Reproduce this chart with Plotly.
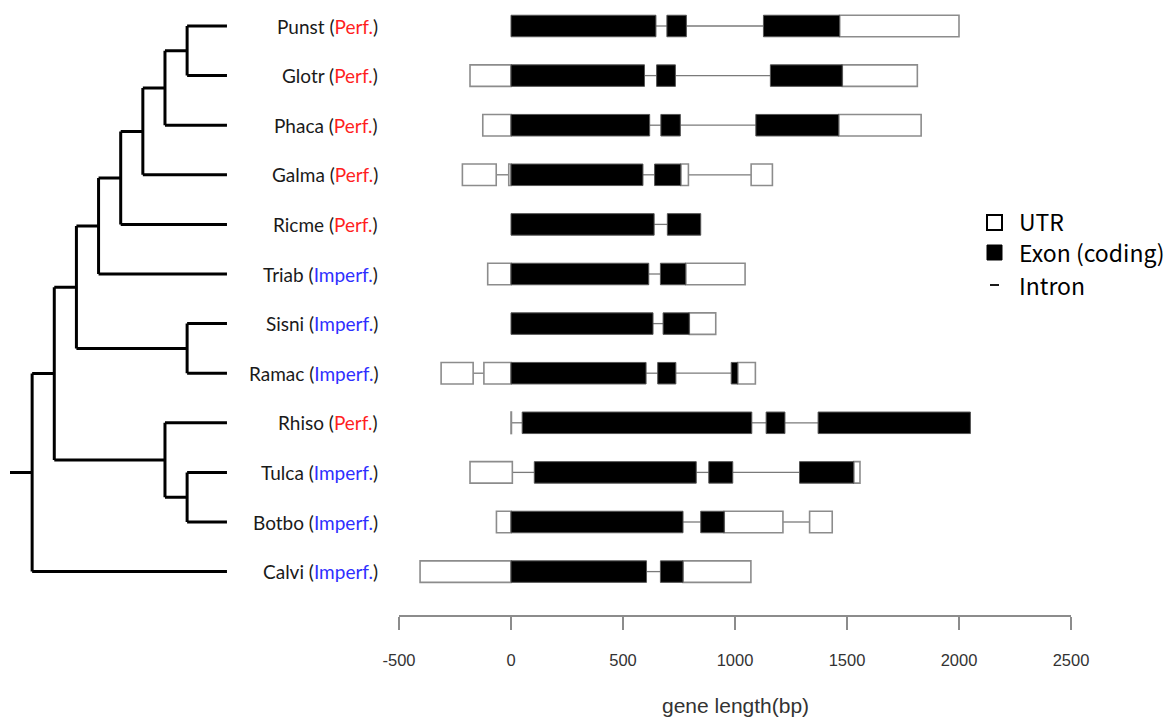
import plotly.graph_objects as go

W, H = 1168, 717

# Species in display order (top to bottom) and their splicing status
species = ["Punst", "Glotr", "Phaca", "Galma", "Ricme", "Triab",
           "Sisni", "Ramac", "Rhiso", "Tulca", "Botbo", "Calvi"]
status = ["Perf.", "Perf.", "Perf.", "Perf.", "Perf.", "Imperf.",
          "Imperf.", "Imperf.", "Perf.", "Imperf.", "Imperf.", "Imperf."]

# Cladogram topology (children listed top to bottom)
tree = ("root_stub",
        ((((("Triab", ("Ricme", ("Galma", ("Phaca", ("Punst", "Glotr")))))),
           ("Sisni", "Ramac")),
          ("Rhiso", ("Tulca", "Botbo"))),
         "Calvi"))

# UTR segments (bp, start/end) per species
utr_segments = [
    [(1467, 2000)],
    [(-183, 0), (1479, 1814)],
    [(-126, 0), (1463, 1831)],
    [(-217, -66), (-10, 0), (758, 792), (1072, 1167)],
    [],
    [(-104, 0), (780, 1045)],
    [(796, 914)],
    [(-312, -169), (-121, 0), (1012, 1091)],
    [(0, 2)],
    [(-183, 6), (1530, 1558)],
    [(-65, 0), (952, 1214), (1333, 1434)],
    [(-406, 0), (768, 1071)],
]

# Coding exon segments (bp, start/end) per species
cds_segments = [
    [(0, 647), (696, 783), (1127, 1467)],
    [(0, 596), (650, 734), (1158, 1479)],
    [(0, 619), (669, 756), (1093, 1463)],
    [(0, 589), (641, 758)],
    [(0, 639), (698, 847)],
    [(0, 615), (667, 780)],
    [(0, 634), (679, 796)],
    [(0, 603), (655, 736), (983, 1012)],
    [(50, 1075), (1139, 1223), (1371, 2051)],
    [(104, 827), (883, 990), (1288, 1530)],
    [(0, 768), (847, 952)],
    [(0, 605), (667, 768)],
]

x_ticks = [-500, 0, 500, 1000, 1500, 2000, 2500]

status_colors = {"Perf.": "#ff1f1f", "Imperf.": "#2f2fff"}

# ---- layout geometry (pixels) ----
row_top_px, row_step_px = 26, 49.6
axis_px = 615
y_top = -row_top_px / row_step_px
y_bottom = (axis_px - row_top_px) / row_step_px
y_dom = [1 - axis_px / H, 1]
half_h = 0.217

gene_left_px, gene_right_px = 399, 1071
tree_level_px, tree_origin_px = 22.14, 10
tree_dom = [0, 0.2]
tree_span = tree_dom[1] * W / tree_level_px
tree_r0 = -tree_origin_px / tree_level_px
tip_level = 9.8

fig = go.Figure()

# ---- cladogram ----
row_of = {s: i for i, s in enumerate(species)}
xs, ys = [], []


def height(node):
    if isinstance(node, str):
        return 0
    return 1 + max(height(c) for c in node)


def draw(node):
    """Add branches below node; return its (x, y)."""
    if isinstance(node, str):
        return tip_level, row_of[node]
    lvl = 9 - height(node)
    kids = [draw(c) for c in node]
    ky = [k[1] for k in kids]
    y = (min(ky) + max(ky)) / 2
    xs.extend([lvl, lvl, None])
    ys.extend([min(ky), max(ky), None])
    for kx, kyy in kids:
        xs.extend([lvl, kx, None])
        ys.extend([kyy, kyy, None])
    return lvl, y


_, root_y = draw(tree[1])
root_lvl = 9 - height(tree[1])
xs.extend([0, root_lvl, None])
ys.extend([root_y, root_y, None])

fig.add_trace(go.Scatter(x=xs, y=ys, mode="lines", xaxis="x2", yaxis="y",
                         line=dict(color="black", width=3), hoverinfo="skip",
                         showlegend=False))

# ---- gene structures ----
shapes = []
for i in range(len(species)):
    feats = sorted([(a, b, "utr") for a, b in utr_segments[i]] +
                   [(a, b, "cds") for a, b in cds_segments[i]])
    # introns join consecutive features
    for (a0, b0, _), (a1, b1, _) in zip(feats[:-1], feats[1:]):
        if a1 > b0:
            shapes.append(dict(type="line", xref="x", yref="y", x0=b0, x1=a1,
                               y0=i, y1=i, line=dict(color="#7a7a7a", width=1.3)))
    for a, b in utr_segments[i]:
        shapes.append(dict(type="rect", xref="x", yref="y", x0=a, x1=b,
                           y0=i - half_h, y1=i + half_h, fillcolor="white",
                           line=dict(color="#8c8c8c", width=1.6)))
    for a, b in cds_segments[i]:
        shapes.append(dict(type="rect", xref="x", yref="y", x0=a, x1=b,
                           y0=i - half_h, y1=i + half_h, fillcolor="black",
                           line=dict(color="#555555", width=1)))

# invisible trace so the gene axis is drawn
fig.add_trace(go.Scatter(x=[x_ticks[0], x_ticks[-1]], y=[0, 0], mode="markers",
                         marker=dict(opacity=0), hoverinfo="skip", showlegend=False))

# ---- species labels ----
annotations = []
for i, (s, st) in enumerate(zip(species, status)):
    annotations.append(dict(
        x=380 / W, xref="paper", y=i, yref="y", xanchor="right", yanchor="middle",
        showarrow=False,
        text=f"{s} (<span style='color:{status_colors[st]}'>{st}</span>)",
        font=dict(family="Lato", size=19, color="#1a1a1a")))

# ---- legend ----
leg_font = dict(family="Noto Sans CJK JP", size=23, color="black")
leg_x_txt = 1017 / W
shapes.append(dict(type="rect", xref="paper", yref="paper",
                   x0=987 / W, x1=1002 / W, y0=1 - 230 / H, y1=1 - 215 / H,
                   fillcolor="white", line=dict(color="black", width=2)))
shapes.append(dict(type="rect", xref="paper", yref="paper",
                   x0=987 / W, x1=1002 / W, y0=1 - 260 / H, y1=1 - 245 / H,
                   fillcolor="black", line=dict(color="black", width=1)))
shapes.append(dict(type="line", xref="paper", yref="paper",
                   x0=990 / W, x1=999 / W, y0=1 - 285 / H, y1=1 - 285 / H,
                   line=dict(color="black", width=1.8)))
for txt, py in [("UTR", 221), ("Exon (coding)", 252), ("Intron", 285)]:
    annotations.append(dict(x=leg_x_txt, xref="paper", y=1 - py / H, yref="paper",
                            xanchor="left", yanchor="middle", showarrow=False,
                            text=txt, font=leg_font))

# ---- axis title ----
annotations.append(dict(x=(gene_left_px + gene_right_px) / 2 / W, xref="paper",
                        y=1 - 705 / H, yref="paper", xanchor="center",
                        yanchor="middle", showarrow=False, text="gene length(bp)",
                        font=dict(family="Liberation Sans", size=21, color="#333333")))

fig.update_layout(
    width=W, height=H, autosize=False, margin=dict(l=0, r=0, t=0, b=0, pad=0),
    paper_bgcolor="white", plot_bgcolor="white",
    shapes=shapes, annotations=annotations, showlegend=False,
    xaxis=dict(domain=[gene_left_px / W, gene_right_px / W],
               range=[x_ticks[0], x_ticks[-1]], tickvals=x_ticks,
               ticktext=[str(t) for t in x_ticks],
               showgrid=False, zeroline=False, showline=True,
               linecolor="#8c8c8c", linewidth=1.5,
               ticks="outside", ticklen=13, tickwidth=1.5, tickcolor="#8c8c8c",
               tickfont=dict(family="Liberation Sans", size=16.5, color="#333333"),
               ticklabelstandoff=16, anchor="y", automargin=False),
    xaxis2=dict(domain=tree_dom, range=[tree_r0, tree_r0 + tree_span],
                visible=False, anchor="y"),
    yaxis=dict(domain=y_dom, range=[y_bottom, y_top], visible=False),
)

fig.write_html("out.html", config={"responsive": False})
